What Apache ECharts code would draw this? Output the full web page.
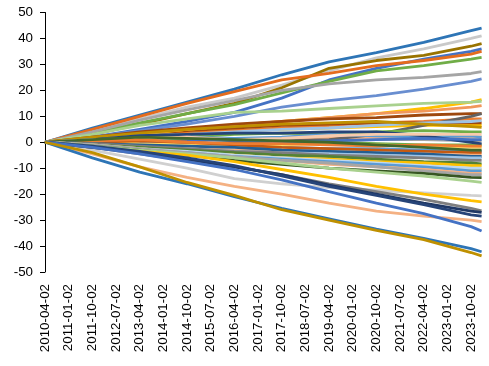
<!DOCTYPE html>
<html><head><meta charset="utf-8">
<script src="https://cdn.jsdelivr.net/npm/echarts@6/dist/echarts.min.js"></script>
<style>html,body{margin:0;padding:0;background:#fff}#c{width:489px;height:366px}</style>
</head><body><div id="c"></div>
<script>
// Monthly category axis 2010-04-02 .. 2024-02-02
const categories = [];
for (let y = 2010, m = 4; !(y === 2024 && m > 2); m++) {
  if (m > 12) { m = 1; y++; }
  if (y === 2024 && m > 2) break;
  categories.push(y + '-' + String(m).padStart(2, '0') + '-02');
}
const sampleDates = ['2010-04-02','2011-10-02','2013-04-02','2014-10-02','2016-04-02','2017-10-02','2019-04-02','2020-10-02','2022-04-02','2023-10-02','2024-02-02'];
const yTicks = [-50,-40,-30,-20,-10,0,10,20,30,40,50];

const s01 = [0, 5.5, 10.5, 15.5, 20.5, 26, 31, 34.5, 38.5, 43, 44];
const s02 = [0, 4.5, 9, 13.5, 17, 22, 27.5, 32.5, 36, 40, 41];
const s03 = [0, 3, 7, 11, 15, 21, 28.5, 31.5, 33.5, 37, 38];
const s04 = [0, 2, 5, 8, 11.5, 17, 24, 28.5, 32, 35, 36];
const s05 = [0, 5, 10, 15, 19.5, 24, 26.5, 29.5, 31.5, 34, 35];
const s06 = [0, 3.5, 7.5, 11, 14.5, 19, 23.5, 27.5, 29.5, 32, 32.7];
const s07 = [0, 4, 8.5, 12.5, 16, 20, 22.5, 24, 25, 26.5, 27.2];
const s08 = [0, 2, 4.5, 7, 10, 13.5, 16, 18, 20.5, 23.5, 24.4];
const s09 = [0, 1.5, 3, 5, 6.5, 8, 9.5, 11, 13, 15.5, 16.4];
const s10 = [0, 3, 6.5, 9, 11.5, 12, 13, 14, 15, 15.5, 15.8];
const s11 = [0, 1.5, 3.5, 5, 6.5, 8, 9.5, 11, 12, 13.5, 14.1];
const s12 = [0, 2, 4, 5.5, 7, 8, 9, 9.5, 10.5, 11, 11];
const s13 = [0, -1, -0.5, -1, 0, 0.5, 1, 3, 6.5, 10, 11];
const s14 = [0, 1, 2.5, 3, 4, 5, 5.5, 6.5, 7.5, 8, 8.3];
const s15 = [0, 2, 3.5, 5, 6, 7, 7.5, 8, 7, 6, 5.7];
const s16 = [0, 1, 2, 2, 3, 3.5, 3, 4, 4.5, 4, 4];
const s17 = [0, 0.5, 1, 2, 1.5, 2, 3, 2.5, 2, 2.5, 2];
const s18 = [0, 1, 2.5, 3, 3.5, 3.5, 4, 4, 2.5, 0, -0.6];
const s19 = [0, 1, 1.5, 2, 1, 1.5, 2.5, 3, 3, 3, 3];
const s20 = [0, -0.5, 0, 0.5, 1, 0, 0.5, 1, 1.5, 1, 1];
const s21 = [0, 0.5, -0.5, -1, -1.5, -1, -0.5, -1, -1.5, -2, -2];
const s22 = [0, 0, 0.5, 0, -1, -2, -2.5, -3, -3.5, -4, -4];
const s23 = [0, 0.5, 1, 0, -0.5, -0.5, -1, -1.5, -1, -1.5, -1.5];
const s24 = [0, 1, 2, 1.5, 1, 0.5, 0, -1, -2, -3, -3];
const s25 = [0, -1, -1.5, -2, -3, -3, -3.5, -4, -4.5, -5, -5];
const s26 = [0, -0.5, -1, -1.5, -2, -3, -3.5, -4, -4.5, -5.5, -5.5];
const s27 = [0, -1, -2, -2.5, -3.5, -4, -4.5, -5, -5.5, -6, -6];
const s28 = [0, -0.5, -1.5, -2.5, -3.5, -4, -5, -5.5, -6, -7, -7];
const s29 = [0, -1, -2, -3, -4, -5, -5.5, -6.5, -7.5, -8, -8.3];
const s30 = [0, -1, -2.5, -4, -5, -6, -6.5, -7.5, -8, -9, -9];
const s31 = [0, -1, -2.5, -3.5, -5, -6, -7, -8, -9, -10, -10];
const s32 = [0, -1.5, -3, -4, -5.5, -6.5, -7.5, -8.5, -9.5, -11, -11];
const s33 = [0, -1.5, -3, -4.5, -6, -7, -8.5, -9.5, -10.5, -12, -12];
const s34 = [0, -1, -2.5, -4, -5.5, -7, -8, -9.5, -11, -12.5, -12.5];
const s35 = [0, -1.5, -3, -5, -7, -8.5, -10, -11, -12, -13.5, -13.6];
const s36 = [0, -1.5, -3, -4.5, -6, -8, -10, -11.5, -13, -15, -15.5];
const s37 = [0, -3, -6.5, -10, -14, -16, -17.5, -18.5, -19.5, -20.5, -20.7];
const s38 = [0, -2, -3.5, -5, -7.5, -10.5, -13.5, -17, -20, -22.5, -23];
const s39 = [0, -2, -4.5, -7, -9.5, -12.5, -16, -19, -22, -25.5, -26.4];
const s40 = [0, -2, -4, -6.5, -9.5, -12.5, -16.5, -20, -23.5, -26.5, -27];
const s41 = [0, -1.5, -3.5, -6, -9, -13, -17, -20.5, -24, -28, -28.5];
const s42 = [0, -4.5, -9.5, -13.5, -17, -20, -23.5, -26.5, -28.5, -30, -30.6];
const s43 = [0, -2, -4.5, -7.5, -10.5, -14.5, -19, -23.5, -27.5, -32.5, -34.2];
const s44 = [0, -6, -11.5, -16, -21, -25.5, -29.5, -33.5, -37, -41, -42.2];
const s45 = [0, -4, -9.5, -15.5, -20.5, -26, -30, -34, -37.5, -42.5, -43.8];
const s46 = [0, 1.5, 2.5, 3.5, 4.5, 5, 5.5, 6, 6.5, 6.5, 6.5];
const s47 = [0, 1, 2.5, 3.5, 4.5, 5.5, 6.5, 7.5, 8, 9, 9];
const s48 = [0, 0, 0.5, 1, 1.5, 1, 0.5, 1, 1, 0.5, 0.5];
const s49 = [0, -0.5, -1, -1, -1.5, -2, -2.5, -2.5, -3, -3.5, -3.5];
const s50 = [0, -0.5, 0, 1, 1.5, 1, 1.5, 2, 2, 2, 2];
const s51 = [0, 0.5, 1, 1.5, 0.5, 0, 0, -0.5, -1, -1, -1];
const s52 = [0, -1.5, -2.5, -4, -5, -6.5, -7.5, -8.5, -9.5, -10.5, -10.5];
const s53 = [0, 1.5, 3, 4.5, 5.5, 6.5, 7, 7.5, 7.5, 7.5, 7.5];

const seriesValues = [s46,s47,s48,s49,s50,s51,s52,s53,s01,s02,s03,s04,s05,s06,s07,s08,s09,s10,s11,s12,s13,s14,s15,s16,s17,s18,s19,s20,s21,s22,s23,s24,s25,s26,s27,s28,s29,s30,s31,s32,s33,s34,s35,s36,s37,s38,s39,s40,s41,s42,s43,s44,s45];
const seriesColors = ['#FFC000','#ED7D31','#A5A5A5','#5B9BD5','#F4B183','#70AD47','#FFD966','#9E480E',
  '#2E75B6','#C9C9C9','#997300','#4472C4','#E46C1E','#70AD47','#A5A5A5','#698ED0','#FFC000','#A9D18E','#F1975A','#9E480E','#636363','#9DC3E6','#BF9000','#70AD47','#5B9BD5','#264478','#F8CBAD','#4472C4','#FFD966','#C55A11','#ED7D31','#43682B','#F4B183','#255E91','#9DC3E6','#7F7F7F','#548235','#FFC000','#BDD7EE','#5B9BD5','#F4B183','#A5A5A5','#375623','#A9D18E','#D0D0D0','#FFC000','#7F7F7F','#203864','#264478','#F4B183','#4472C4','#2E75B6','#BF9000'];

const chart = echarts.init(document.getElementById('c'), null, {renderer: 'canvas'});
chart.setOption({
  animation: false,
  grid: {left: 45, right: 7.4, top: 12.5, bottom: 94, containLabel: false},
  xAxis: {
    type: 'category', data: categories, boundaryGap: false,
    axisLine: {show: false}, axisTick: {show: false}, splitLine: {show: false},
    axisLabel: {interval: 8, rotate: 90, margin: 12, color: '#000', fontFamily: 'Liberation Sans', fontSize: 13.33}
  },
  yAxis: {
    type: 'value', min: yTicks[0], max: yTicks[yTicks.length - 1], interval: 10,
    axisLine: {show: true, lineStyle: {color: '#000', width: 1}},
    axisTick: {show: true, length: 5, lineStyle: {color: '#000'}},
    splitLine: {show: false},
    axisLabel: {margin: 12, color: '#000', fontFamily: 'Liberation Sans', fontSize: 13.33}
  },
  series: seriesValues.map((vals, k) => ({
    type: 'line', showSymbol: false, symbol: 'none',
    lineStyle: {width: 2.8, color: seriesColors[k]},
    itemStyle: {color: seriesColors[k]},
    data: sampleDates.map((d, i) => [d, vals[i]])
  }))
});
</script></body></html>
